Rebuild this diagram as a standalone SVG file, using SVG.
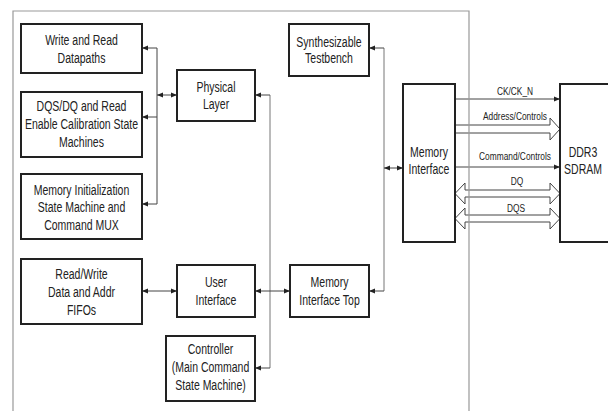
<svg xmlns="http://www.w3.org/2000/svg" width="608" height="411" viewBox="0 0 608 411">
<defs>
<marker id="ah" viewBox="0 0 6 6" refX="6" refY="3" markerWidth="6" markerHeight="6" markerUnits="userSpaceOnUse" orient="auto-start-reverse">
<path d="M0,0.6 L6,3 L0,5.4 z" fill="#222"/>
</marker>
<style>
.box{fill:#fff;stroke:#222;stroke-width:2}
.frame{fill:none;stroke:#999;stroke-width:1.2}
.c{fill:none;stroke:#444;stroke-width:1}
.cg{fill:none;stroke:#777;stroke-width:1}
.a{marker-end:url(#ah)}
.d{marker-start:url(#ah);marker-end:url(#ah)}
.hol{fill:#fff;stroke:#444;stroke-width:1}
.t{font-family:"Liberation Sans",Arial,sans-serif;font-size:14px;fill:#222;text-anchor:middle}
.s{font-family:"Liberation Sans",Arial,sans-serif;font-size:11px;fill:#222;text-anchor:middle}
</style>
</defs>
<rect width="608" height="411" fill="#fff"/>

<g id="connectors">
<path class="c" d="M157,48 V204"/>
<path class="c a" d="M157,48 H142"/>
<path class="c a" d="M157,117 H142"/>
<path class="c a" d="M157,204 H142"/>
<path class="c d" d="M157,95 H177"/>
<path class="cg" d="M270,95 V368"/>
<path class="c a" d="M270,95 H255"/>
<path class="c a" d="M270,368 H255"/>
<path class="c d" d="M142,291 H177"/>
<path class="c d" d="M255,291 H290"/>
<path class="cg" d="M384,48 V291"/>
<path class="c a" d="M384,48 H369"/>
<path class="c a" d="M384,291 H369"/>
<path class="c d" d="M384,168 H403"/>
<path class="c a" d="M455,99 H560"/>
<path class="hol" d="M455,125 H550 V118 L560,129 L550,140 V133 H455"/>
<path class="c a" d="M455,167 H560"/>
<path class="hol" d="M455,193.5 L465,183 V190 H550 V183 L560,193.5 L550,204 V197 H465 V204 Z"/>
<path class="hol" d="M455,218.5 L465,208 V215 H550 V208 L560,218.5 L550,229 V222 H465 V229 Z"/>
<text class="s" transform="translate(515,95) scale(0.76,1)">CK/CK_N</text>
<text class="s" transform="translate(515,120) scale(0.76,1)">Address/Controls</text>
<text class="s" transform="translate(515,160) scale(0.76,1)">Command/Controls</text>
<text class="s" transform="translate(517,185) scale(0.76,1)">DQ</text>
<text class="s" transform="translate(516,212) scale(0.76,1)">DQS</text>
</g>

<path class="frame" d="M13,411 V11 H469 V411"/>

<g id="write-read-datapaths">
<rect class="box" x="21" y="24" width="121" height="49"/>
<text class="t" transform="translate(81.5,45) scale(0.75,1)"><tspan x="0">Write and Read</tspan><tspan x="0" dy="18">Datapaths</tspan></text>
</g>
<g id="dqs-dq-calibration">
<rect class="box" x="21" y="92" width="121" height="65"/>
<text class="t" transform="translate(81.5,111) scale(0.75,1)"><tspan x="0">DQS/DQ and Read</tspan><tspan x="0" dy="18">Enable Calibration State</tspan><tspan x="0" dy="18">Machines</tspan></text>
</g>
<g id="memory-init">
<rect class="box" x="21" y="174" width="121" height="65"/>
<text class="t" transform="translate(81.5,195) scale(0.75,1)"><tspan x="0">Memory Initialization</tspan><tspan x="0" dy="17.5">State Machine and</tspan><tspan x="0" dy="18">Command MUX</tspan></text>
</g>
<g id="physical-layer">
<rect class="box" x="177" y="70" width="78" height="51"/>
<text class="t" transform="translate(216,92) scale(0.75,1)"><tspan x="0">Physical</tspan><tspan x="0" dy="17">Layer</tspan></text>
</g>
<g id="rw-fifos">
<rect class="box" x="21" y="259" width="121" height="65"/>
<text class="t" transform="translate(81.5,279) scale(0.75,1)"><tspan x="0">Read/Write</tspan><tspan x="0" dy="18">Data and Addr</tspan><tspan x="0" dy="18">FIFOs</tspan></text>
</g>
<g id="user-interface">
<rect class="box" x="177" y="265" width="78" height="52"/>
<text class="t" transform="translate(216,287) scale(0.75,1)"><tspan x="0">User</tspan><tspan x="0" dy="18">Interface</tspan></text>
</g>
<g id="controller">
<rect class="box" x="166" y="336" width="89" height="65"/>
<text class="t" transform="translate(210.5,354) scale(0.75,1)"><tspan x="0">Controller</tspan><tspan x="0" dy="18.5">(Main Command</tspan><tspan x="0" dy="17.5">State Machine)</tspan></text>
</g>
<g id="testbench">
<rect class="box" x="289" y="24" width="80" height="52"/>
<text class="t" transform="translate(329,47) scale(0.75,1)"><tspan x="0">Synthesizable</tspan><tspan x="0" dy="16.5">Testbench</tspan></text>
</g>
<g id="memory-interface-top">
<rect class="box" x="290" y="265" width="79" height="52"/>
<text class="t" transform="translate(329.5,287) scale(0.75,1)"><tspan x="0">Memory</tspan><tspan x="0" dy="18">Interface Top</tspan></text>
</g>
<g id="memory-interface">
<rect class="box" x="403" y="84" width="52" height="158"/>
<text class="t" transform="translate(429,157) scale(0.75,1)"><tspan x="0">Memory</tspan><tspan x="0" dy="17">Interface</tspan></text>
</g>
<g id="ddr3-sdram">
<path class="box" d="M612,84 H560 V242 H612"/>
<text class="t" transform="translate(583,157) scale(0.75,1)"><tspan x="0">DDR3</tspan><tspan x="0" dy="17">SDRAM</tspan></text>
</g>
</svg>
